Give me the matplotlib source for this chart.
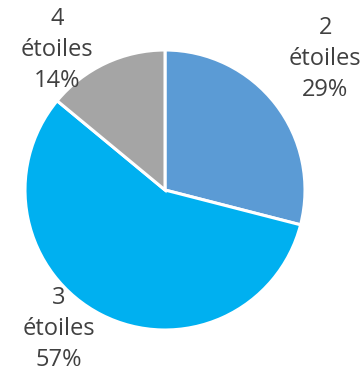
import matplotlib.pyplot as plt
import numpy as np

# Ratings breakdown
categories = ["2\nétoiles", "3\nétoiles", "4\nétoiles"]
percents = [29, 57, 14]
colors = ["#5B9BD5", "#00B0F0", "#A5A5A5"]

# label placement (polar: angle in degrees, distance in radii)
label_angle = [39.3, 232.5, 127.6]
label_dist = [1.48, 1.25, 1.26]

C_TEXT = "#404040"

fig = plt.figure(figsize=(3.61, 3.77), dpi=100, facecolor="white")
ax = fig.add_axes([25 / 361, 47 / 377, 280 / 361, 280 / 377])

wedges, _ = ax.pie(percents, colors=colors, startangle=90, counterclock=False,
                   radius=1.0, wedgeprops=dict(edgecolor="white", linewidth=2.2))
ax.set_xlim(-1, 1)
ax.set_ylim(-1, 1)
ax.set_aspect("equal")
ax.axis("off")

for cat, pct, ang, dist in zip(categories, percents, label_angle, label_dist):
    a = np.deg2rad(ang)
    ax.text(dist * np.cos(a), dist * np.sin(a), f"{cat}\n{pct}%",
            ha="center", va="center", fontsize=17, color=C_TEXT,
            family=["Open Sans", "DejaVu Sans"], linespacing=1.38, clip_on=False)

fig.savefig("out.png", dpi=100, facecolor="white")
